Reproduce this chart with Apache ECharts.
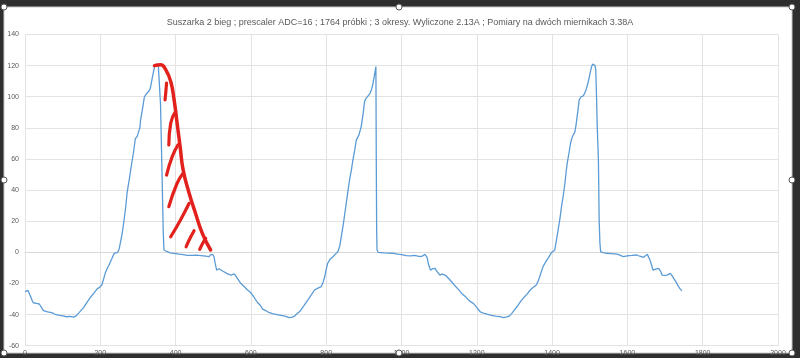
<!DOCTYPE html>
<html>
<head>
<meta charset="utf-8">
<script src="https://cdn.jsdelivr.net/npm/echarts@6/dist/echarts.min.js"></script>
<style>
html,body{margin:0;padding:0;background:#2e2e2e;}
#c{width:800px;height:358px;}
</style>
</head>
<body>
<div id="c"></div>
<script>
const titleText = "Suszarka 2 bieg ; prescaler ADC=16 ; 1764 próbki ; 3 okresy. Wyliczone 2.13A ; Pomiary na dwóch miernikach 3.38A";
const xTicks = [0, 200, 400, 600, 800, 1000, 1200, 1400, 1600, 1800, 2000];
const yTicks = [-60, -40, -20, 0, 20, 40, 60, 80, 100, 120, 140];

const sampleIndex = [
0,8,12,16,19,22,30,38,44,49,60,71,80,89,100,111,120,129,136,142,150,156,165,173,182,191,198,204,209,213,218,222,230,237,246,250,253,258,262,267,271,277,282,288,293,298,302,305,307,312,317,320,324,330,333,338,344,348,351,354,356,360,364,367,369,373,378,385,396,410,420,431,445,455,467,480,489,493,495,499,502,505,509,515,520,525,529,538,547,552,556,565,573,582,591,598,604,610,618,625,631,640,649,660,676,690,702,710,716,722,729,740,751,760,769,778,787,792,796,800,804,810,818,825,831,836,840,846,852,857,862,867,871,876,880,884,887,890,893,898,902,906,911,916,920,923,926,929,932,933,934,935,938,942,955,965,978,990,1000,1013,1025,1035,1049,1055,1062,1065,1068,1072,1077,1083,1089,1095,1102,1108,1116,1124,1133,1142,1151,1160,1170,1178,1185,1191,1200,1209,1220,1236,1250,1262,1271,1280,1287,1293,1300,1308,1316,1325,1333,1342,1350,1358,1363,1367,1372,1376,1382,1389,1394,1398,1403,1407,1411,1416,1421,1425,1430,1434,1437,1440,1445,1449,1452,1456,1460,1463,1468,1472,1477,1483,1487,1490,1495,1499,1502,1505,1508,1511,1514,1516,1518,1520,1523,1525,1527,1529,1535,1545,1558,1572,1580,1589,1600,1612,1625,1633,1643,1648,1653,1657,1660,1664,1668,1675,1683,1688,1692,1698,1705,1710,1714,1718,1723,1729,1736,1740,1745
];
const sampleValue = [
-25.3,-24.5,-25,-29,-31,-32.4,-32.8,-33.2,-35.5,-37.5,-38.2,-38.8,-39.8,-40.3,-40.8,-41.4,-41.2,-41.6,-40.8,-39.2,-37,-35.4,-32,-29.2,-26.5,-23.6,-22.5,-21,-17,-13.5,-10.5,-8.8,-4.5,-0.6,0,2,5.8,12,18.7,28,38,47,55,64,73,74.5,74.4,80,85,92,99.7,101,101.8,104,105.5,112,119.4,121,121,120.5,119.4,95,50,15,1.5,0.5,0.4,-0.3,-0.6,-1.2,-1.5,-1.9,-2.0,-1.8,-2.1,-2.5,-2.8,-1.5,-1.3,-1.5,-2.8,-7,-11.4,-10.5,-10.9,-12,-13,-13.8,-14.6,-13.4,-13.9,-17,-19.9,-22,-24.2,-25.5,-27.4,-29.5,-32.4,-34,-36.5,-37.5,-38.8,-39.5,-40.3,-41,-42,-41.6,-41,-39.5,-38.2,-34.5,-30.7,-27.5,-24.2,-23,-22,-19,-15.7,-11,-7,-4.5,-2.8,-1,0.4,4,10,19,29.4,38,46.5,53,59.4,66,72.3,74,75.5,76,80.8,89,97,99,100,102,104.4,107,110.8,115,119.4,60,15,1.5,0,-0.2,-0.4,-0.5,-0.6,-1.2,-1.5,-2.1,-2.3,-2.0,-2.8,-2.5,-1.3,-1.8,-3.2,-8,-11.4,-10.5,-10.3,-12.5,-14.6,-14,-14.6,-16.5,-18.9,-21.5,-23.8,-26.4,-28.5,-30.7,-32,-32.8,-35.5,-38.2,-39.3,-40.3,-41,-41.3,-42,-41.5,-40.8,-39.2,-37,-34.5,-31.7,-29,-27,-24.2,-22.5,-21,-18.5,-15.7,-12,-9.2,-6.5,-3.9,-2,-0.2,0.8,1.5,7,14.4,22,29.4,37,44.4,51,57.2,64,70.1,73,75.5,77,80.8,90,98,100,100.6,102.5,104.4,108.5,113,116.5,119.4,121,121,120,117.3,100,80,59.4,20.8,6,0.4,-0.2,-0.6,-0.8,-1.1,-1.8,-2.8,-2.2,-2.0,-1.7,-2.5,-3.2,-2.2,-1.3,-2.5,-4.9,-8,-11.4,-10.8,-10.3,-12,-14.6,-14.8,-14.6,-13.8,-13.5,-14.8,-16.7,-19,-22,-23.5,-24.7
];

// red hand-drawn annotation, in data coordinates
const redOutline = [[344,120],[360,120.5],[373,117.7],[387,109.8],[396,98],[404,83],[412,68],[420,53],[436,38],[453,25],[471,12.2],[493,1.5]];
const hatch1 = [[376,108.7],[374,103],[372,98]];
const hatch2 = [[400,90.5],[387,83],[382,69]];
const hatch3 = [[406,69],[391,61.5],[376,49.7]];
const hatch4 = [[420,50.8],[404,44.4],[382,29.4]];
const hatch5 = [[436,31.5],[413,20.8],[387,10]];
const hatch6 = [[449,13.9],[436,7.9],[428,3.6]];
const hatch7 = [[480,9],[471,5.4],[464,1.9]];

const mainData = sampleIndex.map((x, i) => [x, sampleValue[i]]);
const red = '#e3211c';
function redSeries(d, w) {
  return {type:'line', data:d, smooth:0.5, showSymbol:false, silent:true, z:5,
    lineStyle:{color:red, width:w, cap:'round', join:'round'}};
}

const chart = echarts.init(document.getElementById('c'), null, {renderer:'canvas'});
const handles = [[4,7],[399,7],[792,7],[4,180],[792,180],[4,353],[399,353],[792,353]];
chart.setOption({
  animation:false,
  backgroundColor:'#2e2e2e',
  graphic:[
    {type:'rect', z:-10, shape:{x:4,y:7,width:788,height:346}, style:{fill:'#ffffff', stroke:'#c8c8c8', lineWidth:1}},
    ...handles.map(h => ({type:'circle', z:100, shape:{cx:h[0], cy:h[1], r:3}, style:{fill:'#ffffff', stroke:'#555555', lineWidth:1}}))
  ],
  title:{
    text:titleText, left:'center', top:13,
    textStyle:{fontFamily:'"Liberation Sans",sans-serif', fontSize:9, fontWeight:'normal', color:'#595959'}
  },
  grid:{left:25, right:22, top:34.5, bottom:12.3, containLabel:false},
  xAxis:{
    type:'value', min:xTicks[0], max:xTicks[xTicks.length-1], interval:200,
    axisLine:{onZero:true, lineStyle:{color:'#d9d9d9'}},
    axisTick:{show:false},
    axisLabel:{color:'#595959', fontSize:7, margin:4, fontFamily:'"Liberation Sans",sans-serif', formatter:v => String(v)},
    splitLine:{show:true, lineStyle:{color:'#e3e3e3', width:1}}
  },
  yAxis:{
    type:'value', min:yTicks[0], max:yTicks[yTicks.length-1], interval:20,
    axisLine:{show:false},
    axisTick:{show:false},
    axisLabel:{color:'#595959', fontSize:7, margin:6, fontFamily:'"Liberation Sans",sans-serif', formatter:v => String(v)},
    splitLine:{show:true, lineStyle:{color:'#e3e3e3', width:1}}
  },
  series:[
    {type:'line', data:mainData, showSymbol:false, silent:true, z:3,
     lineStyle:{color:'#5b9bd5', width:1.3}},
    redSeries(redOutline, 3.5),
    redSeries(hatch1, 3.2),
    redSeries(hatch2, 3.2),
    redSeries(hatch3, 3.2),
    redSeries(hatch4, 3.2),
    redSeries(hatch5, 3.2),
    redSeries(hatch6, 3.2),
    redSeries(hatch7, 3.2)
  ]
});
</script>
</body>
</html>
